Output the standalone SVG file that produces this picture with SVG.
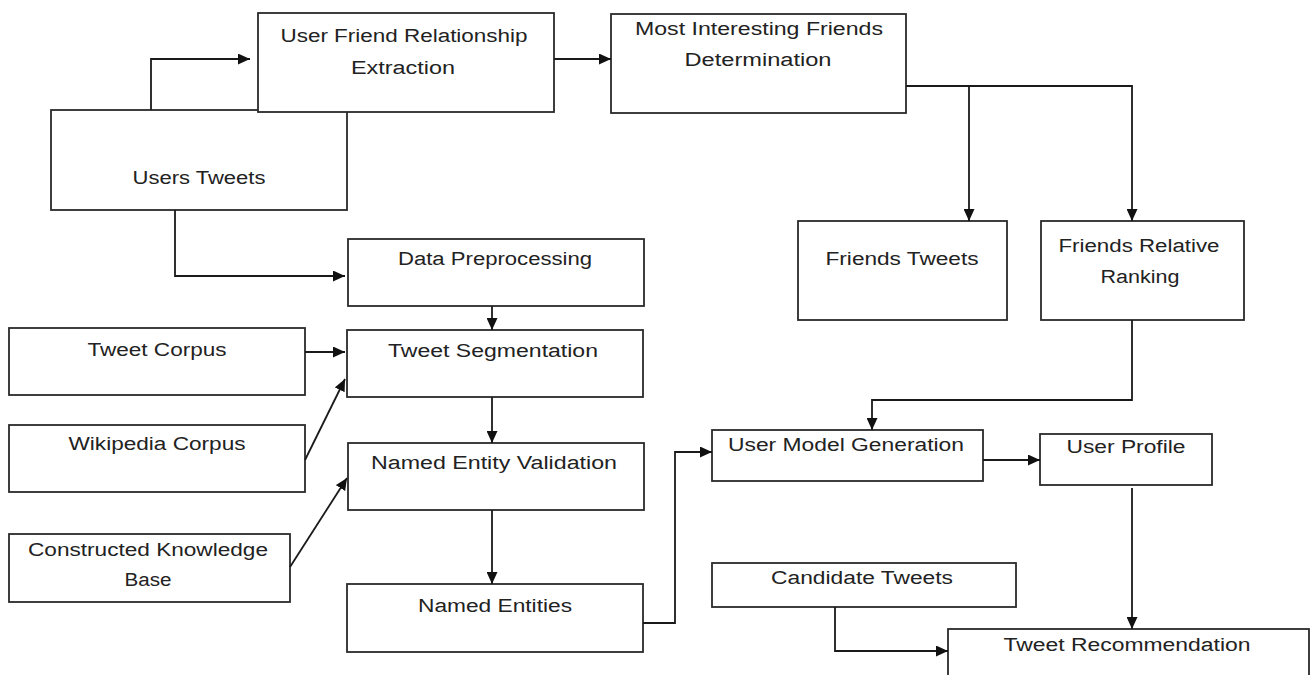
<svg xmlns="http://www.w3.org/2000/svg" width="1311" height="675" viewBox="0 0 1311 675">
<style>
.box{fill:#fff;stroke:#2a2a2a;stroke-width:1.8}
.lbl{font-family:"Liberation Sans",Arial,sans-serif;font-size:18px;fill:#222;text-anchor:middle}
.edge{fill:none;stroke:#1a1a1a;stroke-width:1.8}
</style>
<defs>
<marker id="ah" viewBox="0 0 12 11" refX="12" refY="5.5" markerWidth="12" markerHeight="11" markerUnits="userSpaceOnUse" orient="auto">
<path d="M0,0 L12,5.5 L0,11 z" fill="#111"/>
</marker>
</defs>
<rect width="1311" height="675" fill="#fff"/>
<g id="nodes">
<g id="users-tweets"><rect class="box" x="51" y="110" width="296" height="100"/><text class="lbl" x="199" y="184" textLength="133" lengthAdjust="spacingAndGlyphs">Users Tweets</text></g>
<g id="ufre"><rect class="box" x="258" y="13" width="296" height="99"/><text class="lbl" x="404" y="42" textLength="247" lengthAdjust="spacingAndGlyphs">User Friend Relationship</text><text class="lbl" x="403" y="74" textLength="104" lengthAdjust="spacingAndGlyphs">Extraction</text></g>
<g id="mifd"><rect class="box" x="611" y="14" width="295" height="99"/><text class="lbl" x="759" y="35" textLength="248" lengthAdjust="spacingAndGlyphs">Most Interesting Friends</text><text class="lbl" x="758" y="66" textLength="147" lengthAdjust="spacingAndGlyphs">Determination</text></g>
<g id="friends-tweets"><rect class="box" x="798" y="221" width="209" height="99"/><text class="lbl" x="902" y="265" textLength="153" lengthAdjust="spacingAndGlyphs">Friends Tweets</text></g>
<g id="frr"><rect class="box" x="1041" y="221" width="203" height="99"/><text class="lbl" x="1139" y="252" textLength="161" lengthAdjust="spacingAndGlyphs">Friends Relative</text><text class="lbl" x="1140" y="283" textLength="79" lengthAdjust="spacingAndGlyphs">Ranking</text></g>
<g id="data-prep"><rect class="box" x="348" y="239" width="296" height="67"/><text class="lbl" x="495" y="265" textLength="194" lengthAdjust="spacingAndGlyphs">Data Preprocessing</text></g>
<g id="tweet-seg"><rect class="box" x="347" y="330" width="296" height="67"/><text class="lbl" x="493" y="357" textLength="210" lengthAdjust="spacingAndGlyphs">Tweet Segmentation</text></g>
<g id="tweet-corpus"><rect class="box" x="9" y="328" width="296" height="67"/><text class="lbl" x="157" y="356" textLength="139" lengthAdjust="spacingAndGlyphs">Tweet Corpus</text></g>
<g id="wiki-corpus"><rect class="box" x="9" y="425" width="296" height="67"/><text class="lbl" x="157" y="450" textLength="177" lengthAdjust="spacingAndGlyphs">Wikipedia Corpus</text></g>
<g id="nev"><rect class="box" x="348" y="443" width="296" height="67"/><text class="lbl" x="494" y="469" textLength="246" lengthAdjust="spacingAndGlyphs">Named Entity Validation</text></g>
<g id="ckb"><rect class="box" x="9" y="534" width="281" height="68"/><text class="lbl" x="148" y="556" textLength="240" lengthAdjust="spacingAndGlyphs">Constructed Knowledge</text><text class="lbl" x="148" y="586" textLength="47" lengthAdjust="spacingAndGlyphs">Base</text></g>
<g id="named-entities"><rect class="box" x="347" y="584" width="296" height="68"/><text class="lbl" x="495" y="612" textLength="154" lengthAdjust="spacingAndGlyphs">Named Entities</text></g>
<g id="umg"><rect class="box" x="712" y="430" width="271" height="51"/><text class="lbl" x="846" y="451" textLength="236" lengthAdjust="spacingAndGlyphs">User Model Generation</text></g>
<g id="user-profile"><rect class="box" x="1040" y="434" width="172" height="51"/><text class="lbl" x="1126" y="453" textLength="119" lengthAdjust="spacingAndGlyphs">User Profile</text></g>
<g id="candidate-tweets"><rect class="box" x="712" y="563" width="304" height="44"/><text class="lbl" x="862" y="584" textLength="182" lengthAdjust="spacingAndGlyphs">Candidate Tweets</text></g>
<g id="tweet-rec"><rect class="box" x="948" y="629" width="361" height="70"/><text class="lbl" x="1127" y="651" textLength="247" lengthAdjust="spacingAndGlyphs">Tweet Recommendation</text></g>
</g>
<g id="connectors">
<path class="edge" d="M151,110 V59 H250" marker-end="url(#ah)"/>
<path class="edge" d="M554,59 H611" marker-end="url(#ah)"/>
<path class="edge" d="M906,86 H1132 V221" marker-end="url(#ah)"/>
<path class="edge" d="M969,86 V221" marker-end="url(#ah)"/>
<path class="edge" d="M175,210 V276 H345" marker-end="url(#ah)"/>
<path class="edge" d="M492,306 V330" marker-end="url(#ah)"/>
<path class="edge" d="M305,352 H345" marker-end="url(#ah)"/>
<path class="edge" d="M305,460 L345,379" marker-end="url(#ah)"/>
<path class="edge" d="M492,397 V443" marker-end="url(#ah)"/>
<path class="edge" d="M290,567 L347,478" marker-end="url(#ah)"/>
<path class="edge" d="M492,510 V584" marker-end="url(#ah)"/>
<path class="edge" d="M643,623 H675 V452 H712" marker-end="url(#ah)"/>
<path class="edge" d="M1132,320 V400 H872 V430" marker-end="url(#ah)"/>
<path class="edge" d="M983,460 H1040" marker-end="url(#ah)"/>
<path class="edge" d="M1132,488 V629" marker-end="url(#ah)"/>
<path class="edge" d="M835,607 V651 H948" marker-end="url(#ah)"/>
</g>
</svg>
